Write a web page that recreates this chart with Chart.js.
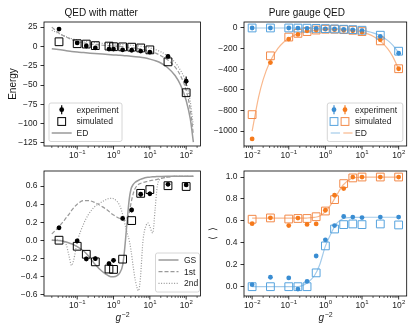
<!DOCTYPE html>
<html>
<head>
<meta charset="utf-8">
<script src="https://cdn.jsdelivr.net/npm/chart.js@4.4.1/dist/chart.umd.min.js"></script>
<style>
  html, body { margin: 0; padding: 0; background: #fff; }
  #fig { position: relative; width: 415px; height: 332px; overflow: hidden; }
  #fig canvas { position: absolute; }
</style>
</head>
<body>
<div id="fig">
  <canvas id="cTL" width="207" height="160" style="left:0;top:0"></canvas>
  <canvas id="cTR" width="208" height="160" style="left:207px;top:0"></canvas>
  <canvas id="cBL" width="207" height="172" style="left:0;top:160px"></canvas>
  <canvas id="cBR" width="208" height="172" style="left:207px;top:160px"></canvas>
</div>
<script>
const FONT = "'Liberation Sans', Arial, Helvetica, sans-serif";

/*
 DATA
*/
// g^-2 values of the measured points
const xLeft = [0.0316, 0.1, 0.178, 0.316, 0.75, 1, 1.78, 3.16, 5.6, 10, 31.6, 100];
const xRight = [0.01, 0.0316, 0.1, 0.178, 0.316, 0.56, 1, 1.78, 3.16, 5.6, 10, 31.6, 100];

// QED with matter - energy
const energyExp = [22.5, 4.5, 0.5, -2, -3.5, -3.5, -4.5, -5, -6, -7.5, -13, -45];
const energyExpErr = [2, 2, 2, 2.5, 2.5, 2.5, 2, 2, 2, 2.5, 2.5, 6];
const energySim = [6, 3.5, 3, 1, 0.4, -0.4, -0.6, -1, -2, -4.5, -20, -60];
const xCurveTop = [0.02, 0.03, 0.05, 0.07, 0.1, 0.15, 0.2, 0.3, 0.5, 0.7, 1, 1.5, 2, 3, 5, 7, 10, 15, 20, 30, 50, 70, 100, 130, 158];
const energyGS = [-3, -4, -5.5, -6.5, -7.3, -8, -8.5, -9.2, -10, -10.5, -11, -11.5, -12, -12.7, -13.8, -14.8, -16.5, -19, -21.5, -27, -38, -50, -70, -94, -124];
const energy1st = [25, 18, 12, 9, 6.5, 4.5, 3.5, 2.5, 1.5, 1, 0.5, 0, -0.5, -1.5, -3, -4.5, -6.5, -9, -12, -17, -27, -38, -57, -82, -114];
const energy2nd = [21, 17, 12.5, 10, 8.5, 7, 6, 5, 4, 3.5, 3, 2.5, 2, 1.5, 0.5, -0.5, -2, -4.5, -7, -12, -21, -31, -47, -72, -104];

// QED with matter - order parameter
const orderExp = [0.138, -0.008, -0.208, -0.205, -0.26, -0.223, 0.242, 0.335, 0.51, 0.515, 0.62, 0.614];
const orderExpErr = [0.025, 0.025, 0.025, 0.025, 0.025, 0.025, 0.02, 0.025, 0.025, 0.025, 0.02, 0.02];
const orderSim = [0.0, -0.067, -0.156, -0.24, -0.32, -0.324, -0.21, 0.218, 0.52, 0.562, 0.605, 0.596];
const xCurveBottom = [0.02, 0.03, 0.04, 0.05, 0.06, 0.07, 0.08, 0.1, 0.15, 0.2, 0.3, 0.5, 0.7, 0.85, 1, 1.5, 1.8, 2, 2.3, 2.7, 3, 3.5, 4, 4.9, 5.5, 6.5, 8, 9, 10, 12, 14, 16, 20, 30, 50, 100, 158];
const orderGS = [0.0, -0.003, -0.01, -0.02, -0.03, -0.04, -0.05, -0.07, -0.12, -0.17, -0.26, -0.35, -0.39, -0.405, -0.405, -0.36, -0.27, -0.12, 0.15, 0.45, 0.56, 0.62, 0.645, 0.665, 0.675, 0.685, 0.695, 0.698, 0.7, 0.703, 0.705, 0.706, 0.708, 0.71, 0.71, 0.71, 0.71];
const order1st = [0.07, 0.14, 0.2, 0.25, 0.29, 0.33, 0.36, 0.4, 0.44, 0.44, 0.42, 0.37, 0.33, 0.3, 0.28, 0.24, 0.225, 0.22, 0.24, 0.3, 0.4, 0.52, 0.58, 0.62, 0.63, 0.64, 0.65, 0.655, 0.66, 0.665, 0.67, 0.675, 0.685, 0.7, 0.71, 0.71, 0.71];
const order2nd = [0.0, 0.0, -0.01, -0.05, -0.18, -0.28, -0.22, -0.02, 0.18, 0.28, 0.37, 0.43, 0.46, 0.465, 0.46, 0.38, 0.28, 0.2, 0.1, 0.0, -0.1, -0.3, -0.45, -0.56, -0.42, 0.0, 0.17, 0.19, 0.15, 0.08, 0.35, 0.6, 0.68, 0.7, 0.71, 0.71, 0.71];

// Pure gauge QED - energy (blue / orange)
const gaugeExpB = [0, 0, 0, -2, -3, -5, -8, -10, -14, -18, -25, -82, -245];
const gaugeExpErrB = [6, 6, 6, 6, 6, 6, 6, 6, 6, 6, 8, 12, 16];
const gaugeSimB = [0, 0, 0, -1, -2, -4, -6, -9, -12, -16, -22, -70, -225];
const gaugeExpO = [-1075, -335, -108, -62, -28, -20, -12, -16, -22, -28, -40, -115, -395];
const gaugeExpErrO = [14, 12, 8, 6, 6, 6, 6, 6, 6, 6, 8, 12, 14];
const gaugeSimO = [-840, -270, -88, -52, -35, -20, -12, -12, -16, -22, -35, -125, -395];
const xCurveRight = [0.01, 0.015, 0.02, 0.03, 0.05, 0.07, 0.1, 0.15, 0.2, 0.3, 0.5, 0.7, 1, 1.5, 2, 3, 5, 7, 10, 15, 20, 30, 50, 70, 100];
const gaugeEDB = [0, 0, 0, 0, 0, 0, 0, 0, -0.5, -0.5, -1, -2, -3, -4, -5, -7.5, -12, -17, -24, -36, -48, -72, -120, -168, -240];
const gaugeEDO = [-1000, -670, -500, -335, -200, -143, -100, -67, -51, -35, -22, -17, -14, -13, -13, -15, -22, -29, -41, -60, -80, -120, -200, -280, -400];

// Pure gauge QED - expectation values (blue / orange)
const obsExpB = [0.018, 0.086, 0.08, -0.022, 0.049, 0.28, 0.427, 0.557, 0.64, 0.635, 0.63, 0.635, 0.635];
const obsExpErrB = [0.01, 0.01, 0.01, 0.01, 0.01, 0.01, 0.01, 0.01, 0.01, 0.01, 0.01, 0.01, 0.01];
const obsSimB = [0, 0, 0, 0, 0, 0.126, 0.372, 0.526, 0.566, 0.572, 0.566, 0.572, 0.563];
const obsExpO = [0.575, 0.628, 0.557, 0.626, 0.568, 0.572, 0.697, 0.834, 0.895, 1.0, 1.0, 1.0, 1.0];
const obsExpErrO = [0.01, 0.01, 0.01, 0.01, 0.01, 0.01, 0.01, 0.01, 0.01, 0.01, 0.01, 0.01, 0.01];
const obsSimO = [0.615, 0.627, 0.617, 0.622, 0.622, 0.638, 0.69, 0.794, 0.94, 0.992, 1.0, 1.0, 1.0];
const obsEDB = [0, 0, 0, 0, 0, 0, 0, 0, 0.003, 0.03, 0.1, 0.2, 0.37, 0.5, 0.575, 0.62, 0.63, 0.632, 0.633, 0.633, 0.633, 0.633, 0.633, 0.633, 0.633];
const obsEDO = [0.625, 0.625, 0.625, 0.625, 0.625, 0.625, 0.625, 0.625, 0.625, 0.626, 0.632, 0.645, 0.685, 0.76, 0.83, 0.925, 0.985, 0.996, 1.0, 1.0, 1.0, 1.0, 1.0, 1.0, 1.0];

// tick labels
const leftPowers = [-1, 0, 1, 2];
const rightPowers = [-2, -1, 0, 1, 2];
const minorMult = [2, 3, 4, 5, 6, 7, 8, 9];
const energyTicks = [-125, -100, -75, -50, -25, 0, 25];
const gaugeTicks = [-1000, -800, -600, -400, -200, 0];
const orderTicks = [-0.6, -0.4, -0.2, 0.0, 0.2, 0.4, 0.6];
const obsTicks = [0.0, 0.2, 0.4, 0.6, 0.8, 1.0];

/*
 COLOURS
*/
const BLUE = "#3a8dd2";
const BLUE_SQ = "#56a3de";
const BLUE_LN = "#a4cbea";
const ORANGE = "#f57a1c";
const ORANGE_SQ = "#f28a4a";
const ORANGE_LN = "#f9b88d";
const GREY = "#9a9a9a";

Chart.defaults.font.family = FONT;
Chart.defaults.font.size = 8.5;
Chart.defaults.color = "#222";
Chart.defaults.animation = false;
Chart.defaults.plugins.legend.display = false;
Chart.defaults.plugins.tooltip.enabled = false;

/*
 HELPERS
*/
function pts(xs, ys) {
  return xs.map((x, i) => ({ x, y: ys[i] }));
}

function dots(xs, ys, errs, color) {
  return {
    data: pts(xs, ys), errors: errs, showLine: false,
    pointStyle: "circle", pointRadius: 2.4, pointBorderWidth: 0,
    pointBackgroundColor: color, borderColor: color, order: 0
  };
}

function squares(xs, ys, color) {
  return {
    data: pts(xs, ys), showLine: false,
    pointStyle: "rect", pointRadius: 5.5, pointBorderWidth: 1,
    pointBackgroundColor: "rgba(0,0,0,0)", pointBorderColor: color,
    borderColor: color, order: 1
  };
}

function curve(xs, ys, color, dash, width) {
  return {
    data: pts(xs, ys), showLine: true, pointRadius: 0,
    borderColor: color, borderWidth: width, borderDash: dash,
    cubicInterpolationMode: "monotone", order: 2
  };
}

function minus(s) {
  return s.replace("-", "\u2212");
}

/*
 PLUGINS
*/
const framePlugin = {
  id: "frame",
  afterDraw(chart) {
    const { ctx, chartArea: a } = chart;
    ctx.save();
    ctx.strokeStyle = "#000";
    ctx.lineWidth = 0.8;
    ctx.strokeRect(a.left, a.top, a.right - a.left, a.bottom - a.top);
    ctx.restore();
  }
};

const errorBars = {
  id: "errorBars",
  afterDatasetsDraw(chart) {
    const ctx = chart.ctx;
    const ys = chart.scales.y;
    chart.data.datasets.forEach((ds, i) => {
      if (!ds.errors) return;
      const meta = chart.getDatasetMeta(i);
      ctx.save();
      ctx.strokeStyle = ds.borderColor;
      ctx.lineWidth = 1.2;
      meta.data.forEach((p, j) => {
        const v = ds.data[j].y;
        const e = ds.errors[j];
        ctx.beginPath();
        ctx.moveTo(p.x, ys.getPixelForValue(v - e));
        ctx.lineTo(p.x, ys.getPixelForValue(v + e));
        ctx.stroke();
      });
      ctx.restore();
    });
  }
};

function drawPower(ctx, cx, base, e) {
  const exp = minus(String(e));
  ctx.font = "8.5px " + FONT;
  const w1 = ctx.measureText("10").width;
  ctx.font = "6px " + FONT;
  const w2 = ctx.measureText(exp).width;
  const x = cx - (w1 + w2) / 2;
  ctx.fillStyle = "#222";
  ctx.textAlign = "left";
  ctx.textBaseline = "alphabetic";
  ctx.font = "8.5px " + FONT;
  ctx.fillText("10", x, base);
  ctx.font = "6px " + FONT;
  ctx.fillText(exp, x + w1 + 0.3, base - 3.8);
}

const logAxis = {
  id: "logAxis",
  afterDraw(chart, args, opts) {
    const s = chart.scales.x;
    const ctx = chart.ctx;
    const a = chart.chartArea;
    const y0 = a.bottom;
    ctx.save();
    ctx.strokeStyle = "#000";
    opts.powers.forEach(e => {
      const major = Math.pow(10, e);
      const px = s.getPixelForValue(major);
      ctx.lineWidth = 0.8;
      ctx.beginPath();
      ctx.moveTo(px, y0);
      ctx.lineTo(px, y0 + 3.5);
      ctx.stroke();
      drawPower(ctx, px, y0 + 11.5, e);
    });
    // minor ticks from the decade below the first label to the last one
    const decades = [opts.powers[0] - 1].concat(opts.powers);
    ctx.lineWidth = 0.6;
    decades.forEach(e => {
      minorMult.forEach(m => {
        const v = m * Math.pow(10, e);
        if (v < s.min || v > s.max) return;
        const px = s.getPixelForValue(v);
        ctx.beginPath();
        ctx.moveTo(px, y0);
        ctx.lineTo(px, y0 + 2);
        ctx.stroke();
      });
    });
    if (opts.title) {
      const cx = (a.left + a.right) / 2;
      ctx.font = "italic 10px " + FONT;
      const wg = ctx.measureText("g").width;
      ctx.font = "7px " + FONT;
      const ws = ctx.measureText("\u22122").width;
      const x = cx - (wg + ws) / 2;
      ctx.fillStyle = "#222";
      ctx.textAlign = "left";
      ctx.textBaseline = "alphabetic";
      ctx.font = "italic 10px " + FONT;
      ctx.fillText("g", x, y0 + 25);
      ctx.font = "7px " + FONT;
      ctx.fillText("\u22122", x + wg + 0.5, y0 + 20.5);
    }
    ctx.restore();
  }
};

function drawMark(ctx, m, y) {
  ctx.save();
  if (m.t === "err") {
    ctx.strokeStyle = m.color;
    ctx.lineWidth = 1.2;
    ctx.beginPath();
    ctx.moveTo(m.x, y - 4.5);
    ctx.lineTo(m.x, y + 4.5);
    ctx.stroke();
    ctx.fillStyle = m.color;
    ctx.beginPath();
    ctx.arc(m.x, y, 2.4, 0, Math.PI * 2);
    ctx.fill();
  } else if (m.t === "sq") {
    ctx.strokeStyle = m.color;
    ctx.lineWidth = 1;
    ctx.strokeRect(m.x - 3.9, y - 3.9, 7.8, 7.8);
  } else {
    ctx.strokeStyle = m.color;
    ctx.lineWidth = m.w || 1.5;
    ctx.setLineDash(m.dash || []);
    ctx.beginPath();
    ctx.moveTo(m.x1, y);
    ctx.lineTo(m.x2, y);
    ctx.stroke();
  }
  ctx.restore();
}

const boxLegend = {
  id: "boxLegend",
  afterDraw(chart, args, opts) {
    if (!opts.items) return;
    const ctx = chart.ctx;
    const [bx, by, bw, bh] = opts.box;
    ctx.save();
    ctx.fillStyle = "rgba(255,255,255,0.8)";
    ctx.strokeStyle = "#cccccc";
    ctx.lineWidth = 0.8;
    ctx.beginPath();
    ctx.roundRect(bx, by, bw, bh, 2);
    ctx.fill();
    ctx.stroke();
    ctx.font = "8.5px " + FONT;
    ctx.fillStyle = "#222";
    ctx.textAlign = "left";
    ctx.textBaseline = "middle";
    opts.items.forEach((it, i) => {
      const y = opts.rows[i];
      it.marks.forEach(m => drawMark(ctx, m, y));
      ctx.fillText(it.label, opts.textX, y + 0.5);
    });
    ctx.restore();
  }
};

/*
 CHART FACTORY
*/
function makePanel(id, p) {
  new Chart(document.getElementById(id), {
    type: "scatter",
    data: { datasets: p.datasets },
    options: {
      responsive: false,
      layout: { padding: { left: 0, right: p.padRight, top: p.padTop, bottom: 0 } },
      scales: {
        x: {
          type: "logarithmic", min: p.xmin, max: p.xmax,
          ticks: { display: false },
          grid: { display: false },
          border: { display: false },
          afterFit: s => { s.height = p.xh; }
        },
        y: {
          type: "linear", min: p.ymin, max: p.ymax,
          afterBuildTicks: s => { s.ticks = p.yticks.map(v => ({ value: v })); },
          ticks: { padding: 3, color: "#222", callback: v => minus(p.fmt(v)) },
          grid: { drawOnChartArea: false, drawTicks: true, tickLength: 3.5, tickWidth: 0.8, tickColor: "#000" },
          border: { display: false },
          title: { display: true, text: p.ylabel, color: "#111", font: { size: 10 }, padding: { top: p.yTitlePad, bottom: 0 } },
          afterFit: s => { s.width = p.yw; }
        }
      },
      plugins: {
        title: p.title
          ? { display: true, text: p.title, color: "#111", font: { size: 10, weight: "normal" }, padding: { top: 7, bottom: 3 } }
          : { display: false },
        logAxis: { powers: p.powers, title: p.xTitle },
        boxLegend: p.legend || {}
      }
    },
    plugins: [framePlugin, errorBars, logAxis, boxLegend]
  });
}

/*
 TOP LEFT
*/
makePanel("cTL", {
  title: "QED with matter",
  ylabel: "Energy", yTitlePad: 7, yw: 44, xh: 14, padTop: 0, padRight: 4.5,
  xmin: 0.0122, xmax: 248, ymin: -129, ymax: 31.6,
  yticks: energyTicks, fmt: v => String(v), powers: leftPowers, xTitle: false,
  datasets: [
    curve(xCurveTop, energy2nd, GREY, [1, 1.6], 1.2),
    curve(xCurveTop, energy1st, GREY, [4, 2], 1.2),
    curve(xCurveTop, energyGS, GREY, [], 1.5),
    squares(xLeft, energySim, "#000"),
    dots(xLeft, energyExp, energyExpErr, "#000")
  ],
  legend: {
    box: [49, 103, 73, 38.5], textX: 76.5, rows: [109.7, 121.5, 133],
    items: [
      { label: "experiment", marks: [{ t: "err", x: 61.7, color: "#000" }] },
      { label: "simulated", marks: [{ t: "sq", x: 61.7, color: "#000" }] },
      { label: "ED", marks: [{ t: "line", x1: 51.7, x2: 71.7, color: GREY }] }
    ]
  }
});

/*
 TOP RIGHT
*/
makePanel("cTR", {
  title: "Pure gauge QED",
  ylabel: "", yTitlePad: 0, yw: 37, xh: 14, padTop: 0, padRight: 8.3,
  xmin: 0.006, xmax: 166, ymin: -1144, ymax: 58,
  yticks: gaugeTicks, fmt: v => String(v), powers: rightPowers, xTitle: false,
  datasets: [
    curve(xCurveRight, gaugeEDB, BLUE_LN, [], 1.2),
    curve(xCurveRight, gaugeEDO, ORANGE_LN, [], 1.2),
    squares(xRight, gaugeSimB, BLUE_SQ),
    squares(xRight, gaugeSimO, ORANGE_SQ),
    dots(xRight, gaugeExpB, gaugeExpErrB, BLUE),
    dots(xRight, gaugeExpO, gaugeExpErrO, ORANGE)
  ],
  legend: {
    box: [120.3, 103, 75.5, 38.5], textX: 148, rows: [109.7, 121.5, 133],
    items: [
      { label: "experiment", marks: [{ t: "err", x: 127, color: BLUE }, { t: "err", x: 138, color: ORANGE }] },
      { label: "simulated", marks: [{ t: "sq", x: 127, color: BLUE_SQ }, { t: "sq", x: 138, color: ORANGE_SQ }] },
      { label: "ED", marks: [{ t: "line", x1: 123.7, x2: 133, color: BLUE_LN, w: 1.2 }, { t: "line", x1: 136.3, x2: 145.5, color: ORANGE_LN, w: 1.2 }] }
    ]
  }
});

/*
 BOTTOM LEFT
*/
makePanel("cBL", {
  title: "",
  ylabel: "", yTitlePad: 0, yw: 44, xh: 36, padTop: 11, padRight: 4.5,
  xmin: 0.0122, xmax: 248, ymin: -0.619, ymax: 0.768,
  yticks: orderTicks, fmt: v => v.toFixed(1), powers: leftPowers, xTitle: true,
  datasets: [
    curve(xCurveBottom, order2nd, GREY, [1, 1.6], 1.2),
    curve(xCurveBottom, order1st, GREY, [4, 2], 1.2),
    curve(xCurveBottom, orderGS, GREY, [], 1.5),
    squares(xLeft, orderSim, "#000"),
    dots(xLeft, orderExp, orderExpErr, "#000")
  ],
  legend: {
    box: [155.5, 93, 44, 39], textX: 184, rows: [100, 111.7, 123.3],
    items: [
      { label: "GS", marks: [{ t: "line", x1: 158.5, x2: 178.5, color: GREY }] },
      { label: "1st", marks: [{ t: "line", x1: 158.5, x2: 178.5, color: GREY, dash: [4, 2], w: 1.2 }] },
      { label: "2nd", marks: [{ t: "line", x1: 158.5, x2: 178.5, color: GREY, dash: [1, 1.6], w: 1.2 }] }
    ]
  }
});

/*
 BOTTOM RIGHT
*/
makePanel("cBR", {
  title: "",
  ylabel: "\u27E8  \u27E9", yTitlePad: 0, yw: 37, xh: 36, padTop: 11, padRight: 8.3,
  xmin: 0.006, xmax: 166, ymin: -0.085, ymax: 1.055,
  yticks: obsTicks, fmt: v => v.toFixed(1), powers: rightPowers, xTitle: true,
  datasets: [
    curve(xCurveRight, obsEDB, BLUE_LN, [], 1.2),
    curve(xCurveRight, obsEDO, ORANGE_LN, [], 1.2),
    squares(xRight, obsSimB, BLUE_SQ),
    squares(xRight, obsSimO, ORANGE_SQ),
    dots(xRight, obsExpB, obsExpErrB, BLUE),
    dots(xRight, obsExpO, obsExpErrO, ORANGE)
  ]
});
</script>
</body>
</html>
